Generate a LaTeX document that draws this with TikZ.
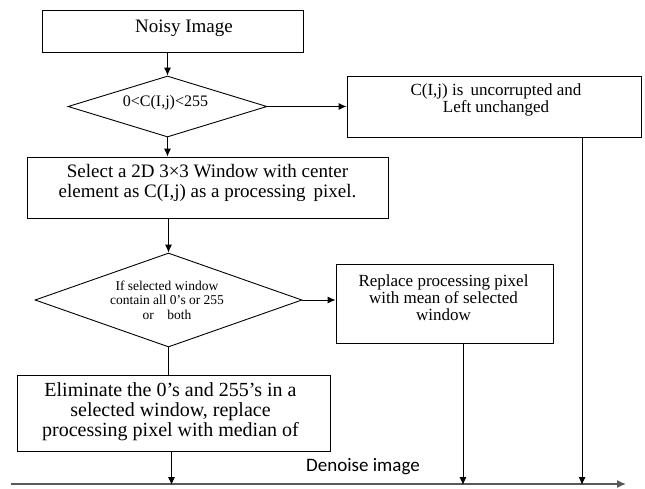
\documentclass[tikz,border=0pt]{standalone}
\usepackage{fontspec}
\setmainfont{Liberation Serif}
\newfontfamily\calib{Carlito}
\usetikzlibrary{shapes.geometric,arrows.meta}
\tikzset{
  box/.style={draw, line width=0.9pt, rectangle, inner sep=0pt},
  dia/.style={draw, line width=0.9pt, diamond, inner sep=0pt, aspect=#1},
  lbl/.style={align=center, inner sep=0pt},
  arr/.style={line width=0.9pt, -{Latex[length=8pt,width=7pt]}},
  ln/.style={line width=0.9pt}
}
\begin{document}
\begin{tikzpicture}[x=1pt,y=-1pt]
\useasboundingbox (0,0) rectangle (645,488);
% boxes
\node[box, minimum width=261pt, minimum height=42pt] (n1) at (172.5,31) {};
\node[lbl, font=\fontsize{19}{19}\selectfont] (t1) at (184,28) {Noisy Image};

\node[dia=3.26, minimum width=199pt, minimum height=61pt] (d1) at (167.5,106.5) {};
\node[lbl, font=\fontsize{16}{16}\selectfont] (t2) at (165.5,103) {0<C(I,j)<255};

\node[box, minimum width=294pt, minimum height=61pt] (b2) at (494,106.5) {};
\node[lbl, font=\fontsize{17}{17}\selectfont] (t3) at (496,99.5) {C(I,j) is\, uncorrupted and\\Left unchanged};

\node[box, minimum width=361pt, minimum height=61pt] (b3) at (207.5,187.5) {};
\node[lbl, font=\fontsize{19}{20}\selectfont] (t4) at (207.5,183) {Select a 2D 3×3 Window with center\\element as C(I,j) as a processing\, pixel.};

\node[dia=2.84, minimum width=267pt, minimum height=94pt] (d2) at (168.5,300) {};
\node[lbl, font=\fontsize{13.5}{14.5}\selectfont] (t5) at (167,300) {If selected window\\contain all 0’s or 255\\or\quad both};

\node[box, minimum width=217pt, minimum height=79pt] (b4) at (444.5,303.5) {};
\node[lbl, font=\fontsize{17}{17}\selectfont] (t6) at (443.5,298) {Replace processing pixel\\with mean of selected\\window};

\node[box, minimum width=313pt, minimum height=76pt] (b5) at (174,413) {};
\node[lbl, font=\fontsize{20}{20}\selectfont] (t7) at (170.5,412) {Eliminate the 0’s and 255’s in a\\selected window, replace\\processing pixel with median of};

\coordinate (bl) at (11,484);
\coordinate (br) at (626,484);
\node[lbl, font=\calib\fontsize{19}{19}\selectfont] (t8) at (363,467) {Denoise image};

% connectors
\draw[arr] (d1.north |- n1.south) -- (d1.north);
\draw[arr] (d1.south) -- (d1.south |- b3.north);
\draw[arr] (d1.east) -- (b2.west);
\draw[arr] (d2.north |- b3.south) -- (d2.north);
\draw[arr] (d2.east) -- (d2.east -| b4.west);
\draw[ln] (d2.south) -- (d2.south |- b5.north);
\draw[line width=1.4pt, black!65, -{Latex[length=9pt,width=8pt]}] (bl) -- (br);
\draw[arr] ([xshift=-2.5pt]b5.south) -- ([xshift=-2.5pt,yshift=-1pt]b5.south |- bl);
\draw[arr] ([xshift=18.5pt]b4.south) -- ([xshift=18.5pt,yshift=-1pt]b4.south |- bl);
\draw[arr] ([xshift=88pt]b2.south) -- ([xshift=88pt,yshift=-1pt]b2.south |- bl);
\end{tikzpicture}
\end{document}
